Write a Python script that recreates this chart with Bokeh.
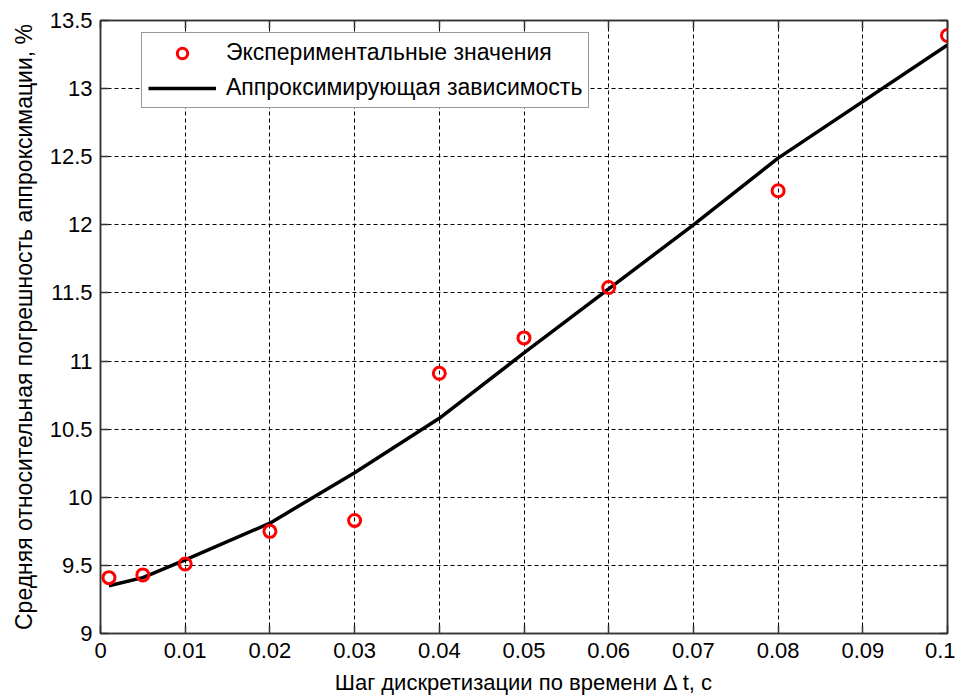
from bokeh.plotting import figure
from bokeh.models import (ColumnDataSource, Range1d, FixedTicker, LinearAxis,
                          CustomJSTickFormatter, Legend, LegendItem)
from bokeh.embed import file_html
from bokeh.resources import INLINE

# ---- data ----
exp_x = [0.001, 0.005, 0.01, 0.02, 0.03, 0.04, 0.05, 0.06, 0.08, 0.1]
exp_y = [9.41, 9.43, 9.51, 9.75, 9.83, 10.91, 11.17, 11.54, 12.25, 13.39]

fit_x = [0.001, 0.005, 0.01, 0.02, 0.03, 0.04, 0.05, 0.06, 0.07, 0.08, 0.1]
fit_y = [9.35, 9.41, 9.54, 9.81, 10.18, 10.58, 11.06, 11.53, 12.0, 12.49, 13.32]

x_ticks = [0.0, 0.01, 0.02, 0.03, 0.04, 0.05, 0.06, 0.07, 0.08, 0.09, 0.1]
y_ticks = [9.0, 9.5, 10.0, 10.5, 11.0, 11.5, 12.0, 12.5, 13.0, 13.5]

x_label = "Шаг дискретизации по времени Δ t, с"
y_label = "Средняя относительная погрешность аппроксимации, %"
legend_labels = ["Экспериментальные значения", "Аппроксимирующая зависимость"]

FONT = "Liberation Sans"

p = figure(width=955, height=698, output_backend="svg", toolbar_location=None,
           x_range=Range1d(0, 0.1), y_range=Range1d(9, 13.5),
           min_border_left=100, min_border_right=8, min_border_top=20,
           min_border_bottom=65)
p.xaxis.visible = False
p.yaxis.visible = False
p.background_fill_color = "white"
p.border_fill_color = "white"
p.outline_line_color = "#333333"
p.outline_line_width = 1.5

fmt = CustomJSTickFormatter(code="return String(Math.round(tick*1000)/1000);")
blank = CustomJSTickFormatter(code="return '';")

def style_axis(ax, ticks, show_labels):
    ax.ticker = FixedTicker(ticks=ticks)
    ax.major_tick_in = 8
    ax.major_tick_out = 0
    ax.minor_tick_in = 0
    ax.minor_tick_out = 0
    ax.axis_line_color = "#333333"
    ax.axis_line_width = 1.5
    ax.major_tick_line_color = "#333333"
    ax.major_tick_line_width = 1.5
    if show_labels:
        ax.formatter = fmt
        ax.major_label_text_font = FONT
        ax.major_label_text_font_size = "22px"
        ax.major_label_text_color = "black"
    else:
        ax.formatter = blank
        ax.major_label_standoff = 0

xb = LinearAxis()
style_axis(xb, x_ticks, True)
xb.major_label_standoff = 9
xb.axis_label = x_label
xb.axis_label_text_font = FONT
xb.axis_label_text_font_size = "22px"
xb.axis_label_text_font_style = "normal"
xb.axis_label_text_color = "black"
xb.axis_label_standoff = 9
p.add_layout(xb, "below")

yl = LinearAxis()
style_axis(yl, y_ticks, True)
yl.major_label_standoff = 8
yl.axis_label = y_label
yl.axis_label_text_font = FONT
yl.axis_label_text_font_size = "23px"
yl.axis_label_text_font_style = "normal"
yl.axis_label_text_color = "black"
yl.axis_label_standoff = 10
p.add_layout(yl, "left")

xt = LinearAxis()
style_axis(xt, x_ticks, False)
p.add_layout(xt, "above")
yr = LinearAxis()
style_axis(yr, y_ticks, False)
p.add_layout(yr, "right")

# grid
p.xgrid.ticker = FixedTicker(ticks=x_ticks)
p.ygrid.ticker = FixedTicker(ticks=y_ticks)
for g in (p.xgrid, p.ygrid):
    g.grid_line_color = "black"
    g.grid_line_dash = "4 3"
    g.grid_line_width = 1
    g.grid_line_alpha = 1.0

src_exp = ColumnDataSource(dict(x=exp_x, y=exp_y))
src_fit = ColumnDataSource(dict(x=fit_x, y=fit_y))

r_line = p.line("x", "y", source=src_fit, line_color="black", line_width=3.5)
r_pts = p.scatter("x", "y", source=src_exp, marker="circle", size=12,
                  line_color="red", line_width=3, fill_color=None)

legend = Legend(items=[LegendItem(label=legend_labels[0], renderers=[r_pts]),
                       LegendItem(label=legend_labels[1], renderers=[r_line])],
                location=(41, 525))
legend.label_text_font = FONT
legend.label_text_font_size = "23px"
legend.label_text_color = "black"
legend.border_line_color = "#333333"
legend.border_line_width = 1.5
legend.background_fill_color = "white"
legend.background_fill_alpha = 1.0
legend.margin = 0
legend.padding = 6
legend.spacing = 8
legend.glyph_width = 68
legend.glyph_height = 26
legend.label_standoff = 10
legend.label_height = 26
p.add_layout(legend, "center")

open("out.html", "w").write(file_html(p, INLINE))
